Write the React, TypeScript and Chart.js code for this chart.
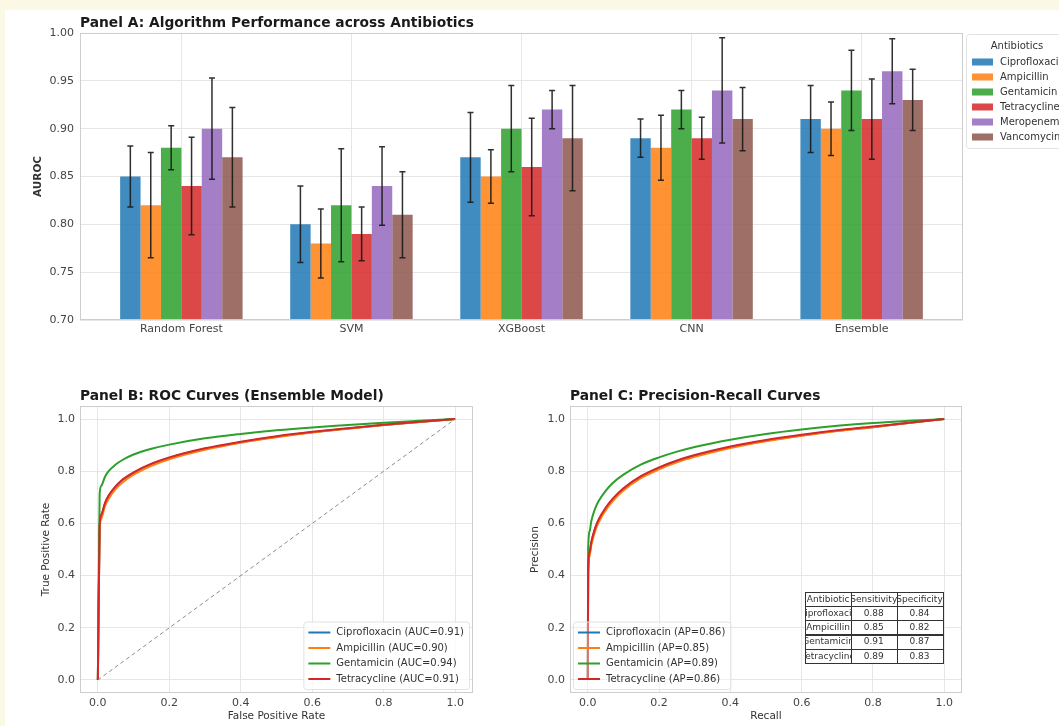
import React, { useEffect, useRef } from 'react';
import { Chart, registerables } from 'chart.js';
Chart.register(...registerables);

const FONT = "'DejaVu Sans', 'Liberation Sans', sans-serif";

// ---------- Panel A data ----------
const algorithms = ['Random Forest', 'SVM', 'XGBoost', 'CNN', 'Ensemble'];
const antibiotics = ['Ciprofloxacin', 'Ampicillin', 'Gentamicin', 'Tetracycline', 'Meropenem', 'Vancomycin'];
const aurocCipro = [0.85, 0.80, 0.87, 0.89, 0.91];
const aurocAmp = [0.82, 0.78, 0.85, 0.88, 0.90];
const aurocGent = [0.88, 0.82, 0.90, 0.92, 0.94];
const aurocTetra = [0.84, 0.79, 0.86, 0.89, 0.91];
const aurocMero = [0.90, 0.84, 0.92, 0.94, 0.96];
const aurocVanco = [0.87, 0.81, 0.89, 0.91, 0.93];
const errCipro = [0.032, 0.040, 0.047, 0.020, 0.035];
const errAmp = [0.055, 0.036, 0.028, 0.034, 0.028];
const errGent = [0.023, 0.059, 0.045, 0.020, 0.042];
const errTetra = [0.051, 0.028, 0.051, 0.022, 0.042];
const errMero = [0.053, 0.041, 0.020, 0.055, 0.034];
const errVanco = [0.052, 0.045, 0.055, 0.033, 0.032];
const aurocTicks = [0.70, 0.75, 0.80, 0.85, 0.90, 0.95, 1.00];

// ---------- Panel B data (ROC) ----------
const rocAntibiotics = ['Ciprofloxacin', 'Ampicillin', 'Gentamicin', 'Tetracycline'];
const aucValues = [0.91, 0.90, 0.94, 0.91];
const rocFpr = [0, 0.005, 0.01, 0.02, 0.03, 0.05, 0.07, 0.1, 0.15, 0.2, 0.3, 0.4, 0.5, 0.6, 0.7, 0.8, 0.9, 1];
const tprCipro = [0, 0.589, 0.631, 0.676, 0.704, 0.741, 0.767, 0.794, 0.827, 0.851, 0.886, 0.911, 0.932, 0.949, 0.964, 0.977, 0.989, 1];
const tprAmp = [0, 0.576, 0.619, 0.666, 0.694, 0.732, 0.758, 0.787, 0.821, 0.846, 0.882, 0.909, 0.930, 0.948, 0.963, 0.977, 0.989, 1];
const tprGent = [0, 0.713, 0.745, 0.779, 0.800, 0.826, 0.844, 0.864, 0.886, 0.902, 0.926, 0.943, 0.957, 0.968, 0.977, 0.986, 0.993, 1];
const tprTetra = [0, 0.592, 0.634, 0.679, 0.707, 0.743, 0.769, 0.796, 0.829, 0.853, 0.888, 0.913, 0.934, 0.951, 0.965, 0.978, 0.990, 1];
const diagonal = [0, 1];

// ---------- Panel C data (PR) ----------
const apValues = [0.86, 0.85, 0.89, 0.86];
const prRecall = [0, 0.001, 0.005, 0.01, 0.02, 0.03, 0.05, 0.07, 0.1, 0.15, 0.2, 0.25, 0.3, 0.4, 0.5, 0.6, 0.7, 0.8, 0.9, 1];
const precCipro = [0, 0.415, 0.486, 0.527, 0.577, 0.611, 0.657, 0.692, 0.732, 0.779, 0.812, 0.838, 0.859, 0.892, 0.917, 0.937, 0.955, 0.969, 0.985, 1];
const precAmp = [0, 0.40, 0.475, 0.517, 0.568, 0.603, 0.65, 0.686, 0.726, 0.774, 0.807, 0.834, 0.855, 0.889, 0.915, 0.936, 0.954, 0.969, 0.985, 1];
const precGent = [0, 0.50, 0.57, 0.61, 0.655, 0.685, 0.725, 0.755, 0.787, 0.826, 0.853, 0.875, 0.893, 0.921, 0.943, 0.960, 0.974, 0.985, 0.993, 1];
const precTetra = [0, 0.42, 0.49, 0.53, 0.58, 0.614, 0.66, 0.695, 0.735, 0.782, 0.815, 0.841, 0.862, 0.895, 0.920, 0.940, 0.957, 0.971, 0.986, 1];
const rateTicks = [0, 0.2, 0.4, 0.6, 0.8, 1.0];

// ---------- Table ----------
const tableHeader = ['Antibiotic', 'Sensitivity', 'Specificity'];
const sensitivity = [0.88, 0.85, 0.91, 0.89];
const specificity = [0.84, 0.82, 0.87, 0.83];

const COLORS = ['#1f77b4', '#ff7f0e', '#2ca02c', '#d62728', '#9467bd', '#8c564b'];
const BAR_COLORS = ['rgba(31,119,180,0.85)', 'rgba(255,127,14,0.85)', 'rgba(44,160,44,0.85)', 'rgba(214,39,40,0.85)', 'rgba(148,103,189,0.85)', 'rgba(140,86,75,0.85)'];
const GRID = '#e6e6e6';
const FRAME = '#cdcdcd';
const TICK = '#444444';

const framePlugin = {
  id: 'frame',
  afterDatasetsDraw(chart: any) {
    const { ctx, chartArea: a } = chart;
    ctx.save();
    ctx.strokeStyle = FRAME;
    ctx.lineWidth = 1;
    ctx.strokeRect(a.left + 0.5, a.top + 0.5, a.width - 1, a.height - 1);
    ctx.restore();
  },
};

function drawTitle(ctx: any, text: string, x: number, y: number) {
  ctx.save();
  ctx.font = `bold 13.8px ${FONT}`;
  ctx.fillStyle = '#1a1a1a';
  ctx.textAlign = 'left';
  ctx.textBaseline = 'middle';
  ctx.fillText(text, x, y);
  ctx.restore();
}

function drawAxisTitle(ctx: any, text: string, x: number, y: number, rotate: boolean, bold = false) {
  ctx.save();
  ctx.font = `${bold ? 'bold ' : ''}10.5px ${FONT}`;
  ctx.fillStyle = '#333';
  ctx.textAlign = 'center';
  ctx.textBaseline = 'middle';
  ctx.translate(x, y);
  if (rotate) ctx.rotate(-Math.PI / 2);
  ctx.fillText(text, 0, 0);
  ctx.restore();
}

function drawLineLegend(ctx: any, a: any, labels: string[], colors: string[], anchor: 'br' | 'bl') {
  ctx.save();
  ctx.font = `10px ${FONT}`;
  const rowH = 15.5;
  const handle = 22;
  const gap = 6;
  const maxW = Math.max(...labels.map((l) => ctx.measureText(l).width));
  let textLeft: number;
  if (anchor === 'br') textLeft = a.right - 9 - maxW;
  else textLeft = a.left + 8 + handle + gap;
  const handleLeft = textLeft - gap - handle;
  const lastY = a.bottom - 14;
  const firstY = lastY - rowH * (labels.length - 1);
  const bx = handleLeft - 5;
  const by = firstY - 11;
  const bw = textLeft + maxW + 5 - bx;
  const bh = lastY + 10 - by;
  ctx.beginPath();
  ctx.roundRect(bx + 0.5, by + 0.5, bw, bh, 3);
  ctx.fillStyle = anchor === 'br' ? 'rgba(255,255,255,0.8)' : 'rgba(255,255,255,0.35)';
  ctx.fill();
  ctx.strokeStyle = '#e2e2e2';
  ctx.lineWidth = 1;
  ctx.stroke();
  labels.forEach((l, i) => {
    const y = firstY + i * rowH;
    ctx.strokeStyle = colors[i];
    ctx.lineWidth = 2;
    ctx.beginPath();
    ctx.moveTo(handleLeft, y);
    ctx.lineTo(handleLeft + handle, y);
    ctx.stroke();
    ctx.fillStyle = '#333';
    ctx.textAlign = 'left';
    ctx.textBaseline = 'middle';
    ctx.fillText(l, textLeft, y);
  });
  ctx.restore();
}

function drawTable(ctx: any, a: any) {
  const left = a.left + 0.6 * a.width;
  const w = 0.35 * a.width;
  const top = a.bottom - 0.352 * a.height;
  const bottom = a.bottom - 0.105 * a.height;
  const rows = [tableHeader, ...rocAntibiotics.map((n, i) => [n, sensitivity[i].toFixed(2), specificity[i].toFixed(2)])];
  const rh = (bottom - top) / rows.length;
  const cw = w / 3;
  ctx.save();
  ctx.fillStyle = '#ffffff';
  ctx.fillRect(left, top, w, bottom - top);
  ctx.font = `9px ${FONT}`;
  ctx.textAlign = 'center';
  ctx.textBaseline = 'middle';
  rows.forEach((r, ri) => {
    r.forEach((cell, ci) => {
      const x = left + ci * cw;
      const y = top + ri * rh;
      ctx.save();
      ctx.beginPath();
      ctx.rect(x + 0.5, y, cw, rh);
      ctx.clip();
      ctx.fillStyle = '#333';
      ctx.fillText(cell, x + cw / 2, y + rh / 2 + 0.5);
      ctx.restore();
    });
  });
  ctx.strokeStyle = '#333';
  ctx.lineWidth = 1;
  rows.forEach((r, ri) => {
    r.forEach((_c, ci) => {
      ctx.strokeRect(Math.round(left + ci * cw) + 0.5, Math.round(top + ri * rh) + 0.5, Math.round(cw), Math.round(rh));
    });
  });
  ctx.restore();
}

const errorSets = [errCipro, errAmp, errGent, errTetra, errMero, errVanco];
const aurocSets = [aurocCipro, aurocAmp, aurocGent, aurocTetra, aurocMero, aurocVanco];

const errorBarPlugin = {
  id: 'errbars',
  afterDatasetsDraw(chart: any) {
    const ctx = chart.ctx;
    const ys = chart.scales.y;
    ctx.save();
    ctx.strokeStyle = 'rgba(25,25,25,0.9)';
    ctx.lineWidth = 1.5;
    chart.data.datasets.forEach((_ds: any, di: number) => {
      const meta = chart.getDatasetMeta(di);
      meta.data.forEach((bar: any, i: number) => {
        const v = aurocSets[di][i];
        const e = errorSets[di][i];
        const x = bar.x;
        const yt = ys.getPixelForValue(v + e);
        const yb = ys.getPixelForValue(v - e);
        ctx.beginPath();
        ctx.moveTo(x, yt);
        ctx.lineTo(x, yb);
        ctx.moveTo(x - 3, yt);
        ctx.lineTo(x + 3, yt);
        ctx.moveTo(x - 3, yb);
        ctx.lineTo(x + 3, yb);
        ctx.stroke();
      });
    });
    ctx.restore();
  },
};

const panelAText = {
  id: 'panelAText',
  afterDraw(chart: any) {
    const { ctx, chartArea: a } = chart;
    drawTitle(ctx, 'Panel A: Algorithm Performance across Antibiotics', a.left, a.top - 10);
    drawAxisTitle(ctx, 'AUROC', 38, (a.top + a.bottom) / 2, true, true);
    ctx.save();
    const lx = a.right + 3;
    ctx.beginPath();
    ctx.roundRect(lx + 0.5, a.top + 1.5, 120, 114, 3);
    ctx.strokeStyle = '#e2e2e2';
    ctx.lineWidth = 1;
    ctx.stroke();
    ctx.font = `10px ${FONT}`;
    ctx.fillStyle = '#333';
    ctx.textAlign = 'center';
    ctx.textBaseline = 'middle';
    ctx.fillText('Antibiotics', a.right + 54, a.top + 13);
    ctx.textAlign = 'left';
    antibiotics.forEach((name, i) => {
      const y = a.top + 29 + i * 15;
      ctx.fillStyle = BAR_COLORS[i];
      ctx.fillRect(a.right + 9, y - 3.5, 21, 7);
      ctx.fillStyle = '#333';
      ctx.fillText(name, a.right + 37, y);
    });
    ctx.restore();
  },
};

const panelBText = {
  id: 'panelBText',
  afterDraw(chart: any) {
    const { ctx, chartArea: a } = chart;
    drawTitle(ctx, 'Panel B: ROC Curves (Ensemble Model)', a.left, a.top - 10);
    drawAxisTitle(ctx, 'True Positive Rate', a.left - 34, (a.top + a.bottom) / 2, true);
    drawAxisTitle(ctx, 'False Positive Rate', (a.left + a.right) / 2, a.bottom + 23, false);
    drawLineLegend(ctx, a, rocAntibiotics.map((n, i) => `${n} (AUC=${aucValues[i].toFixed(2)})`), COLORS, 'br');
  },
};

const panelCText = {
  id: 'panelCText',
  afterDraw(chart: any) {
    const { ctx, chartArea: a } = chart;
    drawTitle(ctx, 'Panel C: Precision-Recall Curves', a.left, a.top - 10);
    drawAxisTitle(ctx, 'Precision', a.left - 35, (a.top + a.bottom) / 2, true);
    drawAxisTitle(ctx, 'Recall', (a.left + a.right) / 2, a.bottom + 23, false);
    drawTable(ctx, a);
    drawLineLegend(ctx, a, rocAntibiotics.map((n, i) => `${n} (AP=${apValues[i].toFixed(2)})`), COLORS, 'bl');
  },
};

const tickFont = { family: FONT, size: 11 };

function rateScale(axis: 'x' | 'y', fitSize: number) {
  return {
    type: 'linear',
    min: -0.05,
    max: 1.05,
    afterBuildTicks: (s: any) => {
      s.ticks = rateTicks.map((v) => ({ value: v }));
    },
    afterFit: (s: any) => {
      if (axis === 'x') s.height = fitSize;
      else s.width = fitSize;
    },
    grid: { color: GRID, lineWidth: 1, drawTicks: false },
    border: { display: false },
    ticks: { font: tickFont, color: TICK, padding: axis === 'x' ? 4 : 5, callback: (v: any) => Number(v).toFixed(1), maxRotation: 0 },
  };
}

function curveConfig(xs: number[], series: number[][], withDiagonal: boolean, yFit: number, rightPad: number, plugin: any) {
  const datasets: any[] = series.map((ys, i) => ({
    label: rocAntibiotics[i],
    data: xs.map((x, j) => ({ x, y: ys[j] })),
    borderColor: COLORS[i],
    borderWidth: 2,
    pointRadius: 0,
    fill: false,
    cubicInterpolationMode: 'monotone',
    order: 4 - i,
  }));
  if (withDiagonal) {
    datasets.push({
      label: 'chance',
      data: diagonal.map((v) => ({ x: v, y: v })),
      borderColor: 'rgba(120,120,120,0.85)',
      borderWidth: 1,
      borderDash: [4, 3],
      pointRadius: 0,
      fill: false,
      order: 0,
    });
  }
  return {
    type: 'line',
    data: { datasets },
    options: {
      animation: false,
      responsive: false,
      maintainAspectRatio: false,
      layout: { padding: { left: 0, top: 41, right: rightPad, bottom: 0 } },
      plugins: { legend: { display: false }, tooltip: { enabled: false }, title: { display: false } },
      scales: {
        x: rateScale('x', 33),
        y: rateScale('y', yFit),
      },
    },
    plugins: [framePlugin, plugin],
  };
}

export default function App() {
  const refA = useRef<HTMLCanvasElement>(null);
  const refB = useRef<HTMLCanvasElement>(null);
  const refC = useRef<HTMLCanvasElement>(null);

  useEffect(() => {
    document.body.style.margin = '0';
    document.body.style.overflow = 'hidden';
    document.documentElement.style.overflow = 'hidden';

    const chartA = new Chart(refA.current as HTMLCanvasElement, {
      type: 'bar',
      data: {
        datasets: antibiotics.map((name, i) => ({
          label: name,
          data: aurocSets[i].map((v, j) => ({ x: j, y: v })),
          backgroundColor: BAR_COLORS[i],
          borderWidth: 0,
          categoryPercentage: 0.72,
          barPercentage: 1.0,
        })),
      },
      options: {
        animation: false,
        responsive: false,
        maintainAspectRatio: false,
        layout: { padding: { left: 0, top: 33, right: 96, bottom: 0 } },
        plugins: { legend: { display: false }, tooltip: { enabled: false } },
        scales: {
          x: {
            type: 'linear',
            min: -0.596,
            max: 4.596,
            offset: false,
            afterBuildTicks: (s: any) => {
              s.ticks = algorithms.map((_n, i) => ({ value: i }));
            },
            afterFit: (s: any) => {
              s.height = 40;
            },
            grid: { color: GRID, lineWidth: 1, drawTicks: false, offset: false },
            border: { display: false },
            ticks: { font: tickFont, color: TICK, padding: 3, maxRotation: 0, autoSkip: false, callback: (v: any) => algorithms[Math.round(Number(v))] ?? '' },
          },
          y: {
            min: 0.7,
            max: 1.0,
            afterBuildTicks: (s: any) => {
              s.ticks = aurocTicks.map((v) => ({ value: v }));
            },
            afterFit: (s: any) => {
              s.width = 80;
            },
            grid: { color: GRID, lineWidth: 1, drawTicks: false },
            border: { display: false },
            ticks: { font: tickFont, color: TICK, padding: 6, callback: (v: any) => Number(v).toFixed(2) },
          },
        },
      } as any,
      plugins: [framePlugin, errorBarPlugin, panelAText],
    } as any);

    const chartB = new Chart(
      refB.current as HTMLCanvasElement,
      curveConfig(rocFpr, [tprCipro, tprAmp, tprGent, tprTetra], true, 80, 57, panelBText) as any
    );
    const chartC = new Chart(
      refC.current as HTMLCanvasElement,
      curveConfig(prRecall, [precCipro, precAmp, precGent, precTetra], false, 40, 97, panelCText) as any
    );

    return () => {
      chartA.destroy();
      chartB.destroy();
      chartC.destroy();
    };
  }, []);

  return (
    <div style={{ position: 'relative', width: 1059, height: 726, background: '#fcf8e6', overflow: 'hidden' }}>
      <div style={{ position: 'absolute', left: 5, top: 10, width: 1054, height: 716, background: '#ffffff' }} />
      <canvas ref={refA} width={1059} height={360} style={{ position: 'absolute', left: 0, top: 0 }} />
      <canvas ref={refB} width={530} height={361} style={{ position: 'absolute', left: 0, top: 365 }} />
      <canvas ref={refC} width={529} height={361} style={{ position: 'absolute', left: 530, top: 365 }} />
    </div>
  );
}
